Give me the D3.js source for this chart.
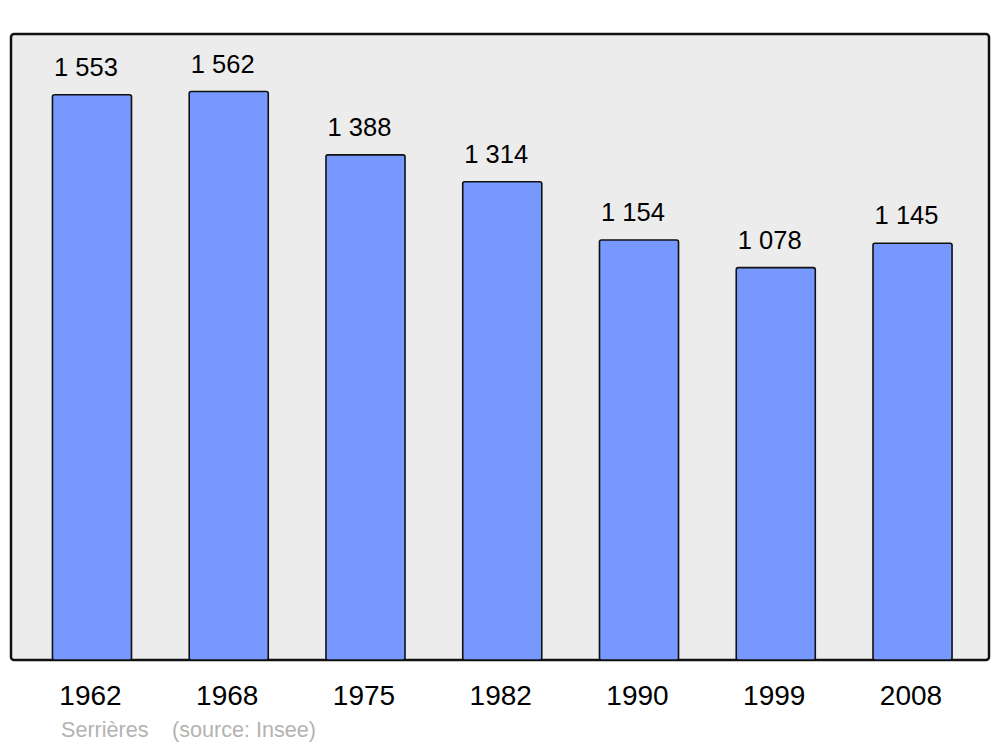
<!DOCTYPE html>
<html><head><meta charset="utf-8">
<script src="https://cdn.jsdelivr.net/npm/d3@7/dist/d3.min.js"></script>
<style>html,body{margin:0;padding:0;background:#fff;}svg{display:block;}</style>
</head><body>
<script>
const years = ["1962","1968","1975","1982","1990","1999","2008"];
const population = [1553,1562,1388,1314,1154,1078,1145];
const labels = ["1 553","1 562","1 388","1 314","1 154","1 078","1 145"];
const caption = ["Serrières", "(source: Insee)"];

const W = 1000, H = 747;
const svg = d3.select("body").append("svg").attr("width", W).attr("height", H);
const font = "'Liberation Sans', Arial, sans-serif";

const panel = {x0: 11, x1: 989, y0: 34, y1: 660};
svg.append("rect").attr("x", panel.x0).attr("y", panel.y0)
  .attr("width", panel.x1 - panel.x0).attr("height", panel.y1 - panel.y0)
  .attr("rx", 3).attr("fill", "#ececec").attr("stroke", "#111").attr("stroke-width", 2.5);

const x = d3.scaleBand().domain(years).range([23.6, 980.9]).paddingInner(0.422).paddingOuter(0.211);
const y = d3.scaleLinear().domain([0, 1720]).range([panel.y1, panel.y0]);

const g = svg.append("g");
g.selectAll("rect.bar").data(years).join("rect").attr("class", "bar")
  .attr("x", d => x(d)).attr("width", x.bandwidth())
  .attr("y", (d, i) => y(population[i])).attr("height", (d, i) => y(0) - y(population[i]))
  .attr("rx", 2).attr("fill", "#7799ff").attr("stroke", "#111").attr("stroke-width", 1.6);

g.selectAll("text.val").data(years).join("text").attr("class", "val")
  .attr("x", d => x(d) + x.bandwidth() / 2 - 6)
  .attr("y", (d, i) => y(population[i]) - 19)
  .attr("text-anchor", "middle").attr("font-family", font).attr("font-size", 25.5).attr("fill", "#000")
  .text((d, i) => labels[i]);

g.selectAll("text.year").data(years).join("text").attr("class", "year")
  .attr("x", d => x(d) + x.bandwidth() / 2 - 1.5)
  .attr("y", 704.5)
  .attr("text-anchor", "middle").attr("font-family", font).attr("font-size", 28).attr("fill", "#000")
  .text(d => d);

svg.append("text").attr("x", 61).attr("y", 737).attr("font-family", font).attr("font-size", 21.6)
  .attr("fill", "#b3b3b3").text(caption[0]);
svg.append("text").attr("x", 172).attr("y", 737).attr("font-family", font).attr("font-size", 21.6)
  .attr("fill", "#b3b3b3").text(caption[1]);
</script>
</body></html>
